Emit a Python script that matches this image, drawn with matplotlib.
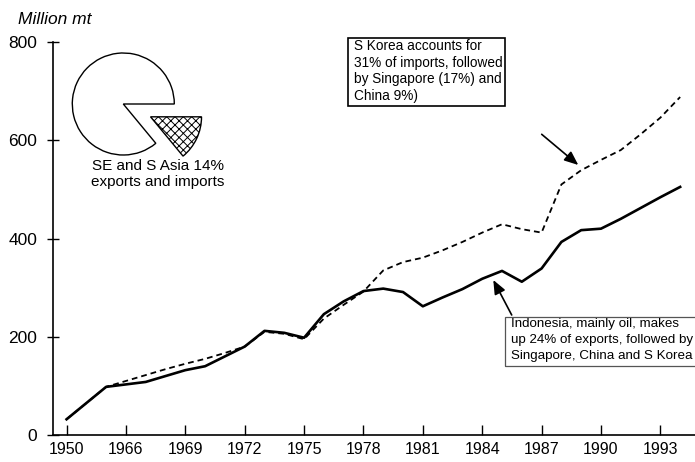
import numpy as np
import matplotlib
matplotlib.use("Agg")
import matplotlib.pyplot as plt
from matplotlib.patches import Rectangle

plt.rcParams['font.family'] = ['Liberation Sans', 'DejaVu Sans']
plt.rcParams['hatch.linewidth'] = 0.7

# yearly values, million mt
years = list(range(1963, 1995))
exports = [32, 65, 98, 103, 108, 120, 132, 140, 160, 180,
           212, 208, 198, 246, 272, 293, 298, 291, 262, 280,
           297, 318, 334, 312, 339, 393, 417, 420, 440, 462,
           484, 505]
imports = [32, 65, 98, 110, 122, 134, 145, 155, 167, 180,
           210, 206, 195, 237, 265, 292, 335, 352, 361, 376,
           393, 412, 429, 419, 412, 510, 539, 560, 580, 612,
           646, 688]

tick_years = [1963, 1966, 1969, 1972, 1975, 1978, 1981, 1984, 1987, 1990, 1993]
tick_labels = ["1950", "1966", "1969", "1972", "1975", "1978", "1981",
               "1984", "1987", "1990", "1993"]
y_ticks = [0, 200, 400, 600, 800]

pie_shares = [14, 86]

import_note = ["S Korea accounts for", "31% of imports, followed",
               "by Singapore (17%) and", "China 9%)"]
export_note = ["Indonesia, mainly oil, makes", "up 24% of exports, followed by",
               "Singapore, China and S Korea"]

W, H = 695, 462

# pixel -> figure fraction helpers
def fx(x):
    return x / W

def fy(y):
    return 1 - y / H

fig = plt.figure(figsize=(6.95, 4.62), dpi=100)
ax = fig.add_axes([fx(52.7), fy(435), fx(695) - fx(52.7), fy(42) - fy(435)])

ax.plot(years, imports, color='black', lw=1.3, ls=(0, (3.2, 2.2)))
ax.plot(years, exports, color='black', lw=1.9, solid_joinstyle='round')

ax.set_xlim(1962.3, 1994.75)
ax.set_ylim(0, 800)
ax.set_xticks(tick_years)
ax.set_xticklabels(tick_labels)
ax.set_yticks(y_ticks)
ax.tick_params(axis='x', direction='in', length=7, width=1, pad=5, labelsize=11.5)
ax.tick_params(axis='y', direction='inout', length=8, width=1, pad=7, labelsize=12.5)
ax.spines['top'].set_visible(False)
ax.spines['right'].set_visible(False)
ax.spines['left'].set_linewidth(1.2)
ax.spines['bottom'].set_linewidth(1.2)

fig.text(fx(18), fy(19), "Million mt", style='italic', fontsize=12.5, va='center')

# pie inset
ax_pie = fig.add_axes([fx(123.3 - 102), fy(104 + 102), 204 / W, 204 / H])
wedges, _ = ax_pie.pie(pie_shares, startangle=0, counterclock=False,
                       explode=[0.59, 0], colors=['white', 'white'],
                       wedgeprops=dict(edgecolor='black', linewidth=1.0))
wedges[0].set_hatch('xxxx')
ax_pie.set_xlim(-2, 2)
ax_pie.set_ylim(-2, 2)
ax_pie.axis('off')

fig.text(fx(158), fy(174), "SE and S Asia 14%\nexports and imports",
         ha='center', va='center', fontsize=11, linespacing=1.2)

# import note
fig.add_artist(Rectangle((fx(348), fy(106)), fx(505) - fx(348), fy(38) - fy(106),
                         transform=fig.transFigure, fill=False, lw=1.2, ec='black'))
for i, line in enumerate(import_note):
    fig.text(fx(354), fy(49.5 + 17 * i), line, ha='left', va='baseline', fontsize=9.8)
ax.annotate('', xy=(fx(578.3), fy(165)), xytext=(fx(541.7), fy(134.3)),
            xycoords='figure fraction', textcoords='figure fraction',
            arrowprops=dict(arrowstyle='-|>,head_length=0.6,head_width=0.25', color='black', lw=1.2,
                            mutation_scale=14, shrinkA=0, shrinkB=0))

# export note
fig.add_artist(Rectangle((fx(505), fy(366)), fx(700) - fx(505), fy(316.7) - fy(366),
                         transform=fig.transFigure, fill=False, lw=0.9, ec='#555555'))
for i, line in enumerate(export_note):
    fig.text(fx(511.5), fy(327.5 + 15.5 * i), line, ha='left', va='baseline', fontsize=9.6)
ax.annotate('', xy=(fx(493.3), fy(280)), xytext=(fx(511.7), fy(315)),
            xycoords='figure fraction', textcoords='figure fraction',
            arrowprops=dict(arrowstyle='-|>,head_length=0.6,head_width=0.25', color='black', lw=1.2,
                            mutation_scale=14, shrinkA=0, shrinkB=0))

fig.savefig("out.png", dpi=100, facecolor='white')
